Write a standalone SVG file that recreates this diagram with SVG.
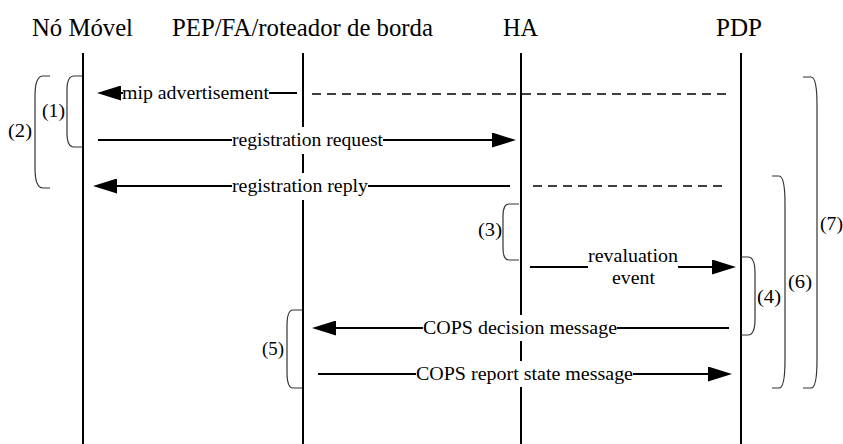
<svg xmlns="http://www.w3.org/2000/svg" width="843" height="444" viewBox="0 0 843 444">
<style>
text{font-family:"Liberation Serif","Times New Roman",serif;fill:#000}
.hdr{font-size:24.5px}
.msg{font-size:19.5px}
.lbl{font-size:19.5px}
.life{stroke:#000;stroke-width:2;fill:none}
.m{stroke:#000;stroke-width:2;fill:none}
.arr{marker-end:url(#ah)}
.dash{stroke:#000;stroke-width:1.4;stroke-dasharray:9 6;fill:none}
.br{stroke:#333;stroke-width:1.2;fill:none}
.bg{fill:#fff}
</style>
<defs>
<marker id="ah" viewBox="0 0 24 15" refX="14" refY="7.5" markerWidth="24" markerHeight="15" markerUnits="userSpaceOnUse" orient="auto">
<path d="M0,0 L24,7.5 L0,15 Z" fill="#000"/>
</marker>
</defs>
<rect width="843" height="444" fill="#fff"/>
<g id="node-no-movel">
<text class="hdr" x="32" y="36" textLength="101" lengthAdjust="spacingAndGlyphs">Nó Móvel</text>
<line class="life" x1="83" y1="53" x2="83" y2="444"/>
</g>
<g id="node-pep">
<text class="hdr" x="172" y="36" textLength="261" lengthAdjust="spacingAndGlyphs">PEP/FA/roteador de borda</text>
<line class="life" x1="303" y1="53" x2="303" y2="444"/>
</g>
<g id="node-ha">
<text class="hdr" x="503" y="36" textLength="35" lengthAdjust="spacingAndGlyphs">HA</text>
<line class="life" x1="521" y1="53" x2="521" y2="444"/>
</g>
<g id="node-pdp">
<text class="hdr" x="716" y="36" textLength="46" lengthAdjust="spacingAndGlyphs">PDP</text>
<line class="life" x1="741" y1="53" x2="741" y2="444"/>
</g>
<g id="connectors">
<line class="m arr" x1="297" y1="93" x2="107" y2="93"/>
<line class="dash" x1="312" y1="94" x2="730" y2="94"/>
<line class="m arr" x1="98" y1="140" x2="506" y2="140"/>
<line class="m arr" x1="510" y1="186" x2="103" y2="186"/>
<line class="dash" x1="533" y1="186" x2="727" y2="186"/>
<line class="m arr" x1="530" y1="267" x2="726" y2="267"/>
<line class="m arr" x1="729" y1="328" x2="322" y2="328"/>
<line class="m arr" x1="318" y1="374" x2="722" y2="374"/>
<rect class="bg" x="123" y="80" width="146" height="26"/>
<rect class="bg" x="232" y="127" width="151" height="27"/>
<rect class="bg" x="232" y="173" width="136" height="27"/>
<rect class="bg" x="588" y="248" width="90" height="42"/>
<rect class="bg" x="423" y="315" width="194" height="26"/>
<rect class="bg" x="416" y="361" width="217" height="26"/>
<text class="msg" x="122" y="99" textLength="147" lengthAdjust="spacingAndGlyphs">mip advertisement</text>
<text class="msg" x="232" y="146" textLength="151" lengthAdjust="spacingAndGlyphs">registration request</text>
<text class="msg" x="232" y="192" textLength="136" lengthAdjust="spacingAndGlyphs">registration reply</text>
<text class="msg" x="588" y="262" textLength="90" lengthAdjust="spacingAndGlyphs">revaluation</text>
<text class="msg" x="612" y="284" textLength="43" lengthAdjust="spacingAndGlyphs">event</text>
<text class="msg" x="423" y="334" textLength="194" lengthAdjust="spacingAndGlyphs">COPS decision message</text>
<text class="msg" x="416" y="380" textLength="217" lengthAdjust="spacingAndGlyphs">COPS report state message</text>
</g>
<g id="brackets">
<g id="br1"><path class="br" d="M82,76 H74 Q67,76 67,90 V133 Q67,147 74,147 H82"/><text class="lbl" x="42" y="117" textLength="23" lengthAdjust="spacingAndGlyphs">(1)</text></g>
<g id="br2"><path class="br" d="M50,76 H43 Q35,76 35,96 V168 Q35,188 43,188 H50"/><text class="lbl" x="8" y="137" textLength="24" lengthAdjust="spacingAndGlyphs">(2)</text></g>
<g id="br3"><path class="br" d="M519,204 H509 Q503,204 503,216 V248 Q503,260 509,260 H519"/><text class="lbl" x="478" y="236" textLength="24" lengthAdjust="spacingAndGlyphs">(3)</text></g>
<g id="br5"><path class="br" d="M302,310 H293 Q287,310 287,326 V372 Q287,388 293,388 H302"/><text class="lbl" x="262" y="355" textLength="22" lengthAdjust="spacingAndGlyphs">(5)</text></g>
<g id="br4"><path class="br" d="M741,257 H748 Q755,257 755,273 V319 Q755,335 748,335 H741"/><text class="lbl" x="757" y="303" textLength="24" lengthAdjust="spacingAndGlyphs">(4)</text></g>
<g id="br6"><path class="br" d="M772,176 H779 Q785,176 785,204 V360 Q785,388 779,388 H772"/><text class="lbl" x="788" y="288" textLength="24" lengthAdjust="spacingAndGlyphs">(6)</text></g>
<g id="br7"><path class="br" d="M803,77 H811 Q817,77 817,105 V360 Q817,388 811,388 H803"/><text class="lbl" x="820" y="230" textLength="23" lengthAdjust="spacingAndGlyphs">(7)</text></g>
</g>
</svg>
